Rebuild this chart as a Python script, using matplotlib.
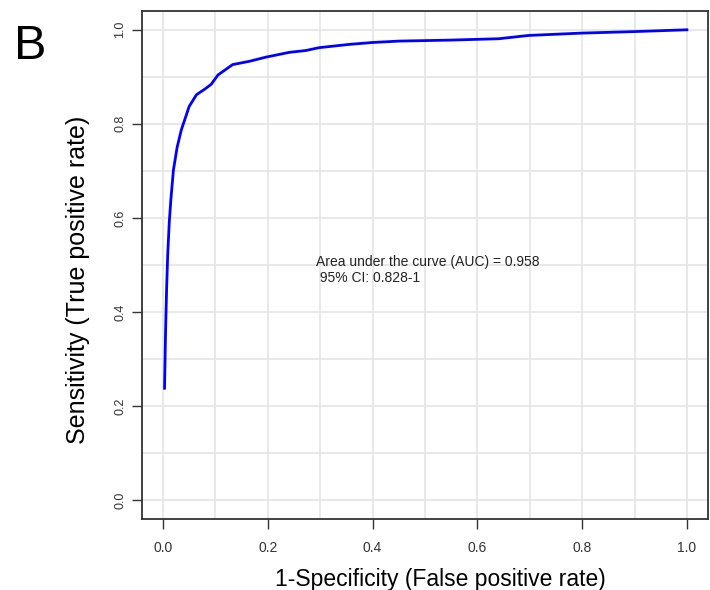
import numpy as np
import matplotlib.pyplot as plt
from matplotlib.ticker import MultipleLocator

plt.rcParams['font.family'] = ['Liberation Sans', 'DejaVu Sans']

# ROC curve points
fpr = [0.003, 0.004, 0.005, 0.007, 0.009, 0.012, 0.015, 0.020, 0.027, 0.035,
       0.050, 0.064, 0.080, 0.092, 0.105, 0.133, 0.165, 0.197, 0.241, 0.273,
       0.298, 0.356, 0.400, 0.451, 0.546, 0.641, 0.698, 0.800, 0.895, 1.000]
tpr = [0.238, 0.300, 0.360, 0.450, 0.520, 0.590, 0.638, 0.702, 0.750, 0.787,
       0.837, 0.862, 0.874, 0.884, 0.904, 0.926, 0.933, 0.942, 0.952, 0.956,
       0.962, 0.969, 0.973, 0.976, 0.978, 0.981, 0.988, 0.993, 0.996, 1.000]

ticks = [0.0, 0.2, 0.4, 0.6, 0.8, 1.0]
auc_text = "Area under the curve (AUC) = 0.958\n 95% CI: 0.828-1"

fig = plt.figure(figsize=(7.1, 5.9), dpi=100)
ax = fig.add_axes([0.2, 0.1203, 0.797, 0.8611])

ax.set_xlim(-0.04, 1.04)
ax.set_ylim(-0.04, 1.04)
ax.xaxis.set_minor_locator(MultipleLocator(0.1))
ax.yaxis.set_minor_locator(MultipleLocator(0.1))
ax.set_xticks(ticks)
ax.set_yticks(ticks)
ax.set_xticklabels([f"{t:.1f}" for t in ticks])
ax.set_yticklabels([f"{t:.1f}" for t in ticks], rotation=90, va='center')
ax.grid(True, which='both', color='#e3e3e3', linestyle='-', linewidth=1.1)
ax.set_axisbelow(True)

ax.plot(fpr, tpr, color='#0000ff', linewidth=2)

ax.text(0.293, 0.49, auc_text, ha='left', va='center', fontsize=10, color='#222222',
        linespacing=1.15)

for s in ax.spines.values():
    s.set_color('#333333')
    s.set_linewidth(1.3)
ax.tick_params(which='major', direction='out', length=7, width=1, color='#333333',
               labelcolor='#333333')
ax.tick_params(axis='x', labelsize=10, pad=9)
ax.tick_params(axis='y', labelsize=9, pad=4.5)
ax.tick_params(which='minor', length=0)

ax.set_xlabel("1-Specificity (False positive rate)", fontsize=16.5)
ax.xaxis.set_label_coords(0.528, -0.097)
ax.set_ylabel("Sensitivity (True positive rate)", fontsize=18, va='center')
ax.yaxis.set_label_coords(-0.1135, 0.47)

fig.text(0.02, 0.96, "B", fontsize=35, ha='left', va='top')

fig.savefig("out.png", dpi=100)
